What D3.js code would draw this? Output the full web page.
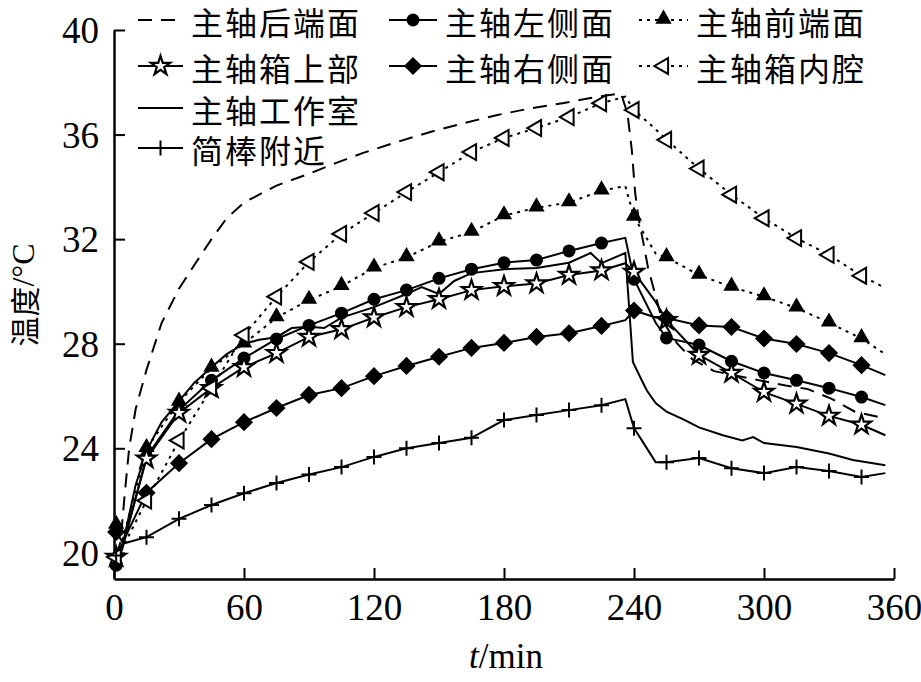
<!DOCTYPE html>
<html>
<head>
<meta charset="utf-8">
<script src="https://cdn.jsdelivr.net/npm/d3@7"></script>
<style>
  body { margin: 0; background: #fff; }
</style>
</head>
<body>
<svg id="chart" width="921" height="682"></svg>
<script>
// time stamps (min) shared by the marked series
const minutes = [1, 4, 15, 30, 45, 60, 75, 90, 105, 120, 135, 150, 165, 180, 195, 210, 225, 236, 240, 250, 255, 270, 285, 300, 315, 330, 345, 356];

// temperatures (°C)
const leftSide  = [19.53, 20.2, 23.67, 25.46, 26.6, 27.45, 28.18, 28.7, 29.17, 29.7, 30.05, 30.5, 30.85, 31.1, 31.2, 31.55, 31.85, 32.05, 30.47, 28.8, 28.22, 27.95, 27.33, 26.88, 26.6, 26.3, 25.96, 25.65];
const frontFace = [21.06, 20.5, 24.0, 25.77, 27.07, 28.0, 29.0, 29.67, 30.2, 30.9, 31.3, 31.9, 32.27, 32.9, 33.2, 33.4, 33.85, 34.03, 32.85, 31.45, 31.3, 30.63, 30.17, 29.8, 29.37, 28.8, 28.2, 27.6];
const boxTop    = [19.84, 20.3, 23.6, 25.35, 26.3, 27.1, 27.64, 28.26, 28.55, 29.0, 29.4, 29.7, 30.05, 30.2, 30.3, 30.63, 30.8, 31.08, 30.74, 29.6, 28.9, 27.57, 26.88, 26.15, 25.7, 25.24, 24.9, 24.5];
const rightSide = [20.8, 20.4, 22.3, 23.43, 24.35, 25.0, 25.54, 26.04, 26.3, 26.76, 27.15, 27.5, 27.84, 28.03, 28.26, 28.4, 28.68, 28.9, 29.27, 29.0, 28.98, 28.7, 28.64, 28.2, 27.99, 27.64, 27.18, 26.8];
const boxCavity = [19.84, 20.2, 22.0, 24.3, 26.3, 28.33, 29.8, 31.13, 32.2, 33.0, 33.8, 34.56, 35.33, 35.87, 36.25, 36.67, 37.2, 37.45, 36.94, 36.2, 35.8, 34.7, 33.7, 32.8, 32.04, 31.4, 30.6, 30.13];
const nearBar   = [19.9, 20.35, 20.6, 21.3, 21.83, 22.28, 22.67, 23.0, 23.28, 23.67, 24.0, 24.2, 24.4, 25.08, 25.27, 25.46, 25.65, 25.88, 24.77, 23.47, 23.47, 23.63, 23.24, 23.05, 23.28, 23.13, 22.9, 23.05];

// the two unmarked lines have their own time stamps
const rearT = [1, 3, 5, 7, 10, 15, 22, 30, 37, 45, 52, 60, 75, 90, 102, 115, 130, 146, 162, 177, 192, 207, 223, 234, 237, 239, 240.5, 242, 244, 246.5, 250.5, 253, 260, 267, 277, 292, 310, 320, 331, 342, 353, 356];
const rearV = [19.9, 20.4, 22.3, 24.0, 25.5, 27.0, 28.8, 30.1, 31.0, 32.0, 32.8, 33.4, 34.05, 34.5, 34.9, 35.3, 35.7, 36.1, 36.45, 36.75, 37.0, 37.2, 37.44, 37.58, 36.8, 35.4, 33.8, 32.85, 32.0, 30.9, 29.67, 28.9, 28.0, 27.4, 26.95, 26.7, 26.4, 26.27, 25.9, 25.4, 25.2, 25.08];
const workT = [1, 4, 10, 15, 22, 30, 37, 45, 52, 60, 67, 75, 82, 90, 97, 105, 120, 135, 142, 150, 157, 165, 180, 195, 210, 220, 225, 236, 239.5, 243, 246, 250, 255, 263, 270, 281, 290, 295, 300, 315, 330, 341, 356];
const workV = [20.0, 20.3, 22.6, 23.9, 25.0, 25.8, 26.5, 27.1, 27.6, 28.0, 28.15, 28.25, 28.6, 28.65, 28.6, 29.0, 29.4, 29.9, 30.17, 29.9, 30.4, 30.7, 30.85, 30.9, 31.1, 31.47, 31.08, 31.47, 27.3, 26.7, 26.2, 25.73, 25.4, 25.1, 24.8, 24.5, 24.3, 24.43, 24.2, 24.05, 23.8, 23.55, 23.35];

const xTicks = [0, 60, 120, 180, 240, 300, 360];
const yTicks = [20, 24, 28, 32, 36, 40];

const cjk = '"Noto Sans CJK SC", sans-serif';
const serif = '"Liberation Serif", "DejaVu Serif", serif';

// series list: name, times, values, marker type, dash
const series = [
    {name: '主轴后端面', t: rearT,   v: rearV,     mark: null,      dash: '14,9'},
    {name: '主轴左侧面', t: minutes, v: leftSide,  mark: 'circle',  dash: null},
    {name: '主轴前端面', t: minutes, v: frontFace, mark: 'tri',     dash: '3,5'},
    {name: '主轴箱上部', t: minutes, v: boxTop,    mark: 'star',    dash: null},
    {name: '主轴右侧面', t: minutes, v: rightSide, mark: 'diamond', dash: null},
    {name: '主轴箱内腔', t: minutes, v: boxCavity, mark: 'ltri',    dash: '3,5'},
    {name: '主轴工作室', t: workT,   v: workV,     mark: null,      dash: null},
    {name: '简棒附近',   t: minutes, v: nearBar,   mark: 'plus',    dash: null}
];

let svg = d3.select('#chart');

let x = d3.scaleLinear().domain([0, 360]).range([114, 894]);
let y = d3.scaleLinear().domain([19, 40]).range([579, 30]);

//axes with inward ticks
let xAxis = d3.axisBottom(x).tickValues(xTicks).tickSize(-11).tickSizeOuter(0).tickPadding(15);
let yAxis = d3.axisLeft(y).tickValues(yTicks).tickSize(-11).tickSizeOuter(0).tickPadding(15);

let gx = svg.append('g').attr('transform', 'translate(0,579)').call(xAxis);
let gy = svg.append('g').attr('transform', 'translate(114,0)').call(yAxis);
[gx, gy].forEach(g => {
    g.select('.domain').attr('stroke', '#000').attr('stroke-width', 2.5);
    g.selectAll('.tick line').attr('stroke', '#000').attr('stroke-width', 2);
    g.selectAll('.tick text')
        .attr('fill', '#000')
        .style('font-family', serif)
        .style('font-size', '37px');
});
gy.selectAll('.tick text').attr('dy', '0.34em');

// axis titles
let yTitle = svg.append('text')
    .attr('transform', 'translate(23,295) rotate(-90)')
    .attr('text-anchor', 'middle')
    .attr('dominant-baseline', 'central')
    .attr('fill', '#000');
yTitle.append('tspan').style('font-family', cjk).style('font-size', '30px').text('温度');
yTitle.append('tspan').style('font-family', serif).style('font-size', '32px').text('/°C');

let xTitle = svg.append('text')
    .attr('x', 506)
    .attr('y', 668)
    .attr('text-anchor', 'middle')
    .attr('fill', '#000')
    .style('font-family', serif)
    .style('font-size', '35px');
xTitle.append('tspan').style('font-style', 'italic').text('t');
xTitle.append('tspan').text('/min');

// marker drawing
function drawMark(g, type, cx, cy) {
    let m;
    if (type === 'circle') {
        m = g.append('circle').attr('cx', cx).attr('cy', cy).attr('r', 6.5).attr('fill', '#000');
    } else if (type === 'tri') {
        m = g.append('path').attr('d', d3.symbol(d3.symbolTriangle, 115)())
            .attr('transform', `translate(${cx},${cy - 1})`).attr('fill', '#000');
    } else if (type === 'star') {
        m = g.append('path').attr('d', d3.symbol(d3.symbolStar, 115)())
            .attr('transform', `translate(${cx},${cy})`)
            .attr('fill', '#fff').attr('stroke', '#000').attr('stroke-width', 2.2);
    } else if (type === 'diamond') {
        m = g.append('path').attr('d', d3.symbol(d3.symbolSquare, 165)())
            .attr('transform', `translate(${cx},${cy}) rotate(45)`).attr('fill', '#000');
    } else if (type === 'ltri') {
        m = g.append('path').attr('d', d3.symbol(d3.symbolTriangle, 110)())
            .attr('transform', `translate(${cx},${cy}) rotate(-90)`)
            .attr('fill', '#fff').attr('stroke', '#000').attr('stroke-width', 2);
    } else if (type === 'plus') {
        m = g.append('path').attr('d', 'M-7.5,0H7.5M0,-7.5V7.5')
            .attr('transform', `translate(${cx},${cy})`)
            .attr('fill', 'none').attr('stroke', '#000').attr('stroke-width', 2);
    }
    return m;
}

let line = d3.line().x(d => x(d[0])).y(d => y(d[1]));
let plot = svg.append('g');

series.forEach(s => {
    let pts = s.t.map((t, i) => [t, s.v[i]]);
    plot.append('path')
        .datum(pts)
        .attr('d', line)
        .attr('fill', 'none')
        .attr('stroke', '#000')
        .attr('stroke-width', 2)
        .attr('stroke-dasharray', s.dash);
});
// markers on top, every 15 min plus the first reading
series.forEach(s => {
    if (!s.mark) return;
    let g = plot.append('g');
    s.t.forEach((t, i) => {
        if (t === 1 || t % 15 === 0) drawMark(g, s.mark, x(t), y(s.v[i]));
    });
});

// legend
let legendRows = [20, 66, 108, 148];
let legendCols = [138, 389, 639];
let sampleLen = [45, 48, 49];
let legendPos = [[0, 0], [0, 1], [0, 2], [1, 0], [1, 1], [1, 2], [2, 0], [3, 0]];
let legend = svg.append('g');
series.forEach((s, i) => {
    let r = legendRows[legendPos[i][0]];
    let c = legendPos[i][1];
    let x0 = legendCols[c];
    let x1 = x0 + sampleLen[c];
    legend.append('line')
        .attr('x1', x0).attr('x2', x1)
        .attr('y1', r).attr('y2', r)
        .attr('stroke', '#000')
        .attr('stroke-width', 2)
        .attr('stroke-dasharray', s.dash);
    if (s.mark) drawMark(legend, s.mark, (x0 + x1) / 2, r);
    legend.append('text')
        .attr('x', x1 + 8)
        .attr('y', r + 1)
        .attr('dominant-baseline', 'central')
        .attr('fill', '#000')
        .style('font-family', cjk)
        .style('font-size', '32px')
        .style('letter-spacing', '2px')
        .text(s.name);
});
</script>
</body>
</html>
